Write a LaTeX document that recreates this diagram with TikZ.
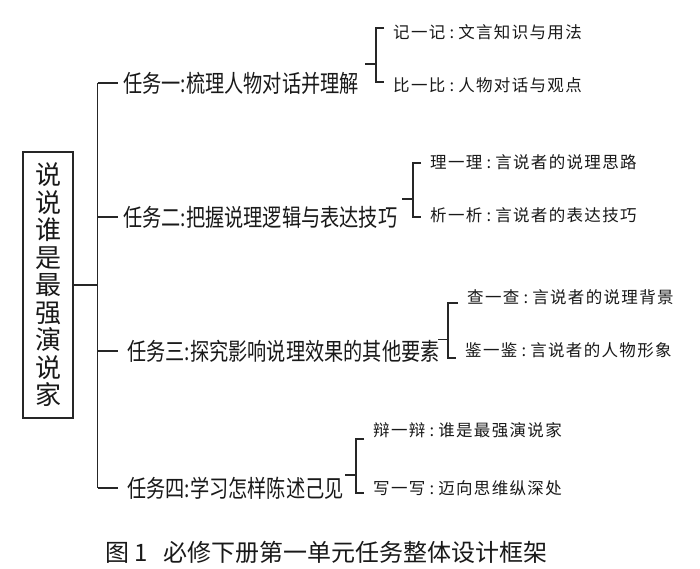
\documentclass[tikz,border=0pt]{standalone}
\usepackage{fontspec}
\setmainfont{Noto Sans CJK SC}
\newfontfamily\taskfont[FakeStretch=0.8]{Noto Sans CJK SC}
\newfontfamily\subfont[LetterSpace=8]{Noto Sans CJK SC}
\newcommand\subcolon{\makebox[13pt]{:}}
\usetikzlibrary{calc}

\begin{document}
\begin{tikzpicture}[
  x=1pt, y=-1pt,
  line/.style={draw=black!85, line width=1.4pt},
  rootbox/.style={draw=black!85, line width=1.4pt, align=center, inner sep=0pt,
    minimum width=50pt, minimum height=266pt, text=black!90,
    font=\fontsize{26}{27.5}\selectfont},
  task/.style={anchor=west, inner sep=0pt, text=black!90, font=\taskfont\fontsize{24}{24}\selectfont},
  sub/.style={anchor=west, inner sep=0pt, text=black!90, font=\subfont\fontsize{16.5}{16.5}\selectfont},
  caption/.style={anchor=west, inner sep=0pt, text=black!90, font=\fontsize{24}{24}\selectfont}
]
\useasboundingbox[fill=white] (0,0) rectangle (700,568);

\node[rootbox] (root) at (48,285) {说\\说\\谁\\是\\最\\强\\演\\说\\家};

\node[task] (t1) at (123,83) {任务一:梳理人物对话并理解};
\node[task] (t2) at (123,217) {任务二:把握说理逻辑与表达技巧};
\node[task] (t3) at (127,351) {任务三:探究影响说理效果的其他要素};
\node[task] (t4) at (127,488) {任务四:学习怎样陈述己见};

\node[sub] (s1a) at (393,32) {记一记\subcolon 文言知识与用法};
\node[sub] (s1b) at (393,85) {比一比\subcolon 人物对话与观点};
\node[sub] (s2a) at (430,162) {理一理\subcolon 言说者的说理思路};
\node[sub] (s2b) at (430,215) {析一析\subcolon 言说者的表达技巧};
\node[sub] (s3a) at (467,297) {查一查\subcolon 言说者的说理背景};
\node[sub] (s3b) at (465,350) {鉴一鉴\subcolon 言说者的人物形象};
\node[sub] (s4a) at (373,430) {辩一辩\subcolon 谁是最强演说家};
\node[sub] (s4b) at (373,488) {写一写\subcolon 迈向思维纵深处};

% trunk
\coordinate (trunk) at ($(root.east)+(24,0)$);
\draw[line] (root.east) -- (trunk);
\draw[line] (t1.west -| trunk) -- (t4.west -| trunk);
\foreach \t in {t1,t2,t3,t4}
  \draw[line] (\t.west -| trunk) -- ++(20,0);

% brackets to sub tasks
\foreach \a/\b/\ua/\ub in {s1a/s1b/4/3, s2a/s2b/-1/-2, s3a/s3b/-6/-8, s4a/s4b/-9/-5} {
  \draw[line] ([xshift=-9pt,yshift=\ua pt]\a.west) -| ([xshift=-17pt,yshift=\ub pt]\b.west)
    -- ([xshift=-9pt,yshift=\ub pt]\b.west);
  \draw[line] ($([xshift=-17pt,yshift=\ua pt]\a.west)!2/3!([xshift=-17pt,yshift=\ub pt]\b.west)$) -- ++(-11,0);
}

\node[caption] (cap) at (105,552) {图 1\hspace{16pt}必修下册第一单元任务整体设计框架};
\end{tikzpicture}
\end{document}
